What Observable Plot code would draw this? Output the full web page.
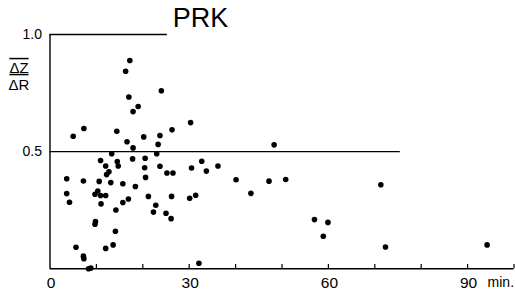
<!DOCTYPE html>
<html>
<head>
<meta charset="utf-8">
<script src="https://cdn.jsdelivr.net/npm/d3@7"></script>
<script src="https://cdn.jsdelivr.net/npm/@observablehq/plot@0.6"></script>
<style>
  html, body { margin: 0; padding: 0; background: #fff; }
  svg { display: block; }
</style>
</head>
<body>
<div id="chart"></div>
<script>
// Data: time (min) and ΔZ/ΔR ratio
const minutes = [
  17.2, 16.3, 24.0, 17.0, 19.0, 17.9, 30.3, 7.3, 5.0, 14.4,
  26.3, 23.7, 20.2, 16.6, 23.3, 17.9, 13.3, 23.0, 10.9, 17.8,
  20.5, 14.5, 14.7, 12.0, 23.7, 20.4, 30.5, 32.7, 36.2, 33.7,
  12.7, 12.2, 25.2, 26.5, 20.6, 3.6, 7.2, 10.6, 13.1, 15.7,
  40.1, 18.4, 10.3, 9.7, 3.6, 10.9, 12.0, 21.2, 26.2, 31.4,
  30.1, 43.3, 4.2, 16.9, 15.7, 11.0, 22.8, 14.2, 22.3, 25.0,
  26.1, 9.8, 9.7, 14.1, 5.6, 12.0, 13.6, 7.2, 7.3, 8.3,
  8.8, 32.1, 48.3, 47.2, 50.8, 71.3, 57.0, 59.9, 58.9, 72.3,
  94.2
];
const ratios = [
  0.889, 0.843, 0.760, 0.733, 0.693, 0.671, 0.624, 0.599, 0.566, 0.587,
  0.593, 0.569, 0.563, 0.542, 0.531, 0.516, 0.491, 0.491, 0.462, 0.469,
  0.472, 0.458, 0.439, 0.439, 0.438, 0.431, 0.430, 0.459, 0.439, 0.417,
  0.414, 0.402, 0.409, 0.409, 0.390, 0.384, 0.375, 0.373, 0.368, 0.363,
  0.380, 0.351, 0.332, 0.318, 0.321, 0.313, 0.313, 0.309, 0.309, 0.314,
  0.301, 0.322, 0.284, 0.298, 0.283, 0.277, 0.271, 0.251, 0.242, 0.237,
  0.214, 0.202, 0.190, 0.160, 0.092, 0.087, 0.102, 0.054, 0.043, 0.000,
  0.003, 0.024, 0.529, 0.374, 0.381, 0.359, 0.210, 0.198, 0.139, 0.093,
  0.102
];
const xTickLabels = [0, 30, 60, 90];
const xMinorTicks = [10, 20, 30, 40, 50, 60, 70, 80, 90, 100];
const yTickLabels = ["1.0", "0.5"];
const yTickValues = [1.0, 0.5];
const title = "PRK";
const unitLabel = "min.";
const yLabelTop = "ΔZ";
const yLabelBottom = "ΔR";
// reference lines drawn in the figure: level and their extent (min)
const refLevels = [1.0, 0.5];
const refEnds = [25.3, 75.5];
const xAxisEnd = 100;

const points = minutes.map((m, i) => ({m, r: ratios[i]}));
const refs = refLevels.map((v, i) => ({v, end: refEnds[i]}));
const yTicks = yTickValues.map((v, i) => ({v, label: yTickLabels[i]}));

const font = "'Liberation Sans', Arial, sans-serif";

const chart = Plot.plot({
  width: 515,
  height: 295,
  marginLeft: 49.5,
  marginRight: 1.5,
  marginTop: 34,
  marginBottom: 26.7,
  x: {domain: [0, 100], axis: null},
  y: {domain: [0, 1], axis: null},
  style: {fontFamily: font, background: "#fff", color: "#000"},
  marks: [
    // axes lines
    Plot.ruleX([0], {y1: 0, y2: 1, stroke: "#000", strokeWidth: 1.4}),
    Plot.ruleY([0], {x1: 0, x2: xAxisEnd, stroke: "#000", strokeWidth: 1.4}),
    Plot.ruleY(refs, {y: "v", x1: 0, x2: "end", stroke: "#000", strokeWidth: 1.3}),
    // minor ticks pointing up
    Plot.ruleX(xMinorTicks, {x: d => d, y1: 0, y2: 0.018, stroke: "#000", strokeWidth: 1.2}),
    // tick labels
    Plot.text(xTickLabels, {x: d => d, y: 0, dy: 14, dx: 1, text: d => String(d), fontSize: 15.5, fill: "#000", lineAnchor: "middle", letterSpacing: 1}),
    Plot.text([unitLabel], {x: 90, y: 0, dy: 14, dx: 20, textAnchor: "start", text: d => d, fontSize: 14, fill: "#000", lineAnchor: "middle"}),
    Plot.text(yTicks, {x: 0, y: "v", dx: -8, textAnchor: "end", text: "label", fontSize: 14, fill: "#000", lineAnchor: "middle"}),
    // y label as fraction
    Plot.text([yLabelTop], {frameAnchor: "top-left", dx: -31, dy: 33.5, textAnchor: "middle", text: d => d, fontSize: 15, fill: "#000", lineAnchor: "middle"}),
    Plot.text([yLabelBottom], {frameAnchor: "top-left", dx: -31, dy: 51, textAnchor: "middle", text: d => d, fontSize: 15, fill: "#000", lineAnchor: "middle"}),
    // title
    Plot.text([title], {frameAnchor: "top-left", dx: 150.5, dy: -16, textAnchor: "middle", text: d => d, fontSize: 27, fill: "#000", lineAnchor: "middle"}),
    // points
    Plot.dot(points, {x: "m", y: "r", r: 2.8, fill: "#000", stroke: "none"})
  ]
});
// overline + fraction bar on the ΔZ label
d3.select(chart).selectAll("text").filter(function () { return this.textContent === yLabelTop; })
  .style("text-decoration", "overline underline");
document.getElementById("chart").appendChild(chart);
</script>
</body>
</html>
